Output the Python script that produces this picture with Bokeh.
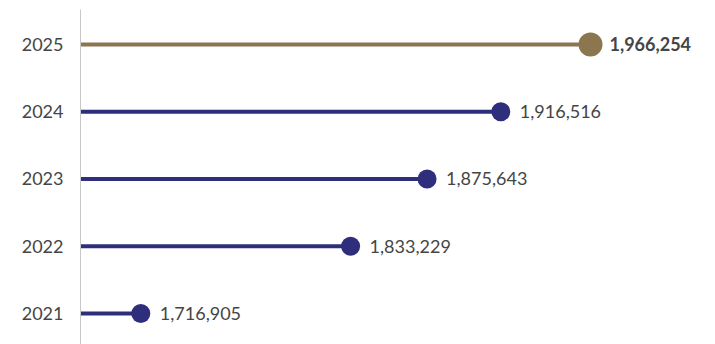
from bokeh.plotting import figure
from bokeh.models import ColumnDataSource, Range1d, FixedTicker
from bokeh.embed import file_html
from bokeh.resources import INLINE
from bokeh.core.properties import value

years = [2021, 2022, 2023, 2024, 2025]
values = [1716905, 1833229, 1875643, 1916516, 1966254]
labels = ["1,716,905", "1,833,229", "1,875,643", "1,916,516", "1,966,254"]

NAVY = "#2e2e7c"
GOLD = "#8b7650"
x_start = 1683470
x_end = 2031682

colors = [NAVY, NAVY, NAVY, NAVY, GOLD]
sizes = [19, 19, 19, 19, 24]
weights = ["normal", "normal", "normal", "normal", "bold"]
offsets = [19, 19, 19, 19, 19]

src = ColumnDataSource(dict(
    y=years, x=values, x0=[x_start] * len(years), lab=labels,
    c=colors, s=sizes, w=weights, off=offsets,
))

p = figure(width=708, height=344, output_backend="svg", toolbar_location=None,
           x_range=Range1d(x_start, x_end), y_range=Range1d(2020.539, 2025.5204),
           x_axis_type=None, min_border_left=80, min_border_right=0,
           min_border_top=9, min_border_bottom=0)
p.outline_line_color = None
p.grid.visible = False
p.background_fill_color = "white"
p.border_fill_color = "white"

p.segment(x0="x0", y0="y", x1="x", y1="y", line_color="c", line_width=4, source=src)
p.scatter(x="x", y="y", size="s", fill_color="c", line_color=None, source=src)
p.text(x="x", y="y", text="lab", x_offset="off", text_baseline="middle", text_align="left",
       text_font=value("Lato"), text_font_size="18px", text_font_style="w",
       text_color="#454545", source=src)

ax = p.yaxis[0]
ax.ticker = FixedTicker(ticks=years)
ax.major_label_overrides = {y: str(y) for y in years}
ax.major_tick_line_color = None
ax.minor_tick_line_color = None
ax.major_tick_out = 0
ax.major_tick_in = 0
ax.major_label_standoff = 17
ax.axis_line_color = "#c8c8c8"
ax.axis_line_width = 1
ax.major_label_text_font = "Lato"
ax.major_label_text_font_size = "18px"
ax.major_label_text_color = "#454545"

open("out.html", "w").write(file_html(p, INLINE))
